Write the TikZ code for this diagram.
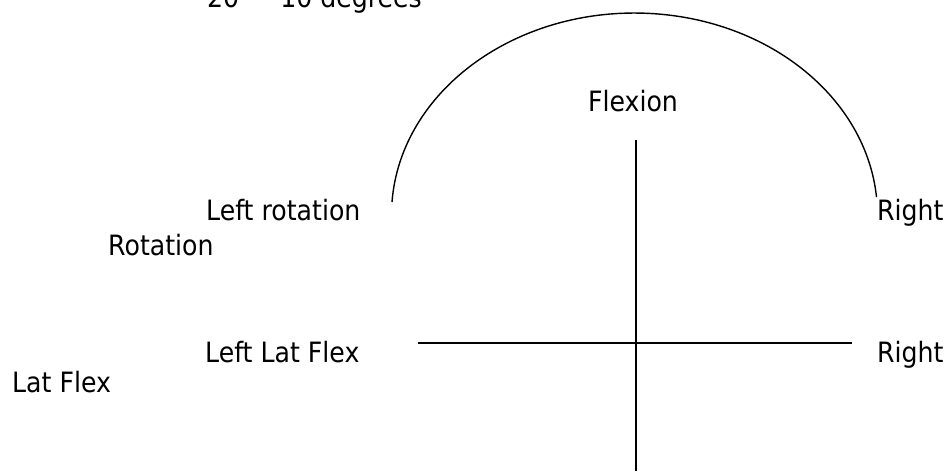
\documentclass[tikz,border=0pt]{standalone}
\usepackage{fontspec}
\setmainfont{DejaVu Sans}[FakeStretch=0.9]
\begin{document}
\begin{tikzpicture}[x=1pt,y=-1pt,
  lbl/.style={anchor=base west,inner sep=0pt,font=\fontsize{28}{32}\selectfont},
  ln/.style={draw=black,line width=1.4pt}]
\useasboundingbox (0,0) rectangle (949,471);
\node[lbl] (deg) at (207,8) {20\hspace{41pt}10 degrees};
\node[lbl,anchor=base] (flex) at (633,111) {Flexion};
\node[lbl] (lrot) at (206,220) {Left rotation};
\node[lbl] (rrot) at (877,220) {Right};
\node[lbl] (rot) at (108,255) {Rotation};
\node[lbl] (llat) at (205,362) {Left Lat Flex};
\node[lbl] (rlat) at (877,362) {Right};
\node[lbl] (lat) at (12,392) {Lat Flex};
\coordinate (arcL) at (392,202);
\coordinate (vTop) at (636,140);
\coordinate (vBot) at (636,471);
\coordinate (hL) at (418,343);
\coordinate (hR) at (852,343);
\draw[ln] (arcL) arc[start angle=176.3, end angle=5.1, x radius=243pt, y radius=202pt];
\draw[ln] (vTop) -- (vBot);
\draw[ln] (hL) -- (hR);
\end{tikzpicture}
\end{document}
